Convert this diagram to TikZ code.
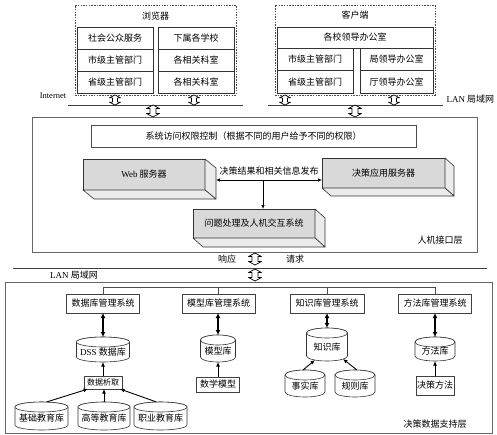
\documentclass[tikz,border=0pt]{standalone}
\usepackage{fontspec}
\setmainfont{Noto Sans CJK SC}
\newfontfamily\lat{Liberation Serif}
\usetikzlibrary{calc,arrows.meta}
\newcommand{\cyry}{5}
\newcommand{\dbcyl}[6]{%
 \draw[cylst] ({#2-#4/2},{#3+\cyry}) -- ({#2-#4/2},{#3+#5-\cyry})
   arc[start angle=180,end angle=360,x radius={0.5pt*#4},y radius=\cyry pt]
   -- ({#2+#4/2},{#3+\cyry})
   arc[start angle=0,end angle=180,x radius={0.5pt*#4},y radius=\cyry pt] -- cycle;
 \draw[cylst] (#2,{#3+\cyry}) ellipse[x radius={0.5pt*#4}, y radius=\cyry pt];
 \node[inner sep=0,outer sep=0,minimum width=#4,minimum height=#5] (#1) at (#2,{#3+#5/2}) {};
 \node at (#2,{#3+#5/2+\cyry/2}) {#6};
}
\newcommand{\sidesthreed}[3]{%
 \draw[side3d] (#1.north east) -- ++(#2,#3) -- ($(#1.south east)+(#2,#3)$) -- (#1.south east) -- cycle;
 \draw[side3d] (#1.south west) -- (#1.south east) -- ($(#1.south east)+(#2,#3)$) -- ($(#1.south west)+(#2,#3)$) -- cycle;
}
\begin{document}
\begin{tikzpicture}[x=1pt,y=-1pt,font=\fontsize{9}{10}\selectfont,
  cell/.style={draw=black!80,line width=0.7pt,minimum width=76,minimum height=22,inner sep=0,outer sep=0},
  dashbox/.style={draw=black!70,line width=0.6pt,dash pattern=on 1.5pt off 1.2pt,inner sep=0,outer sep=0},
  frame/.style={draw=black!60,line width=0.6pt,inner sep=0,outer sep=0},
  front3d/.style={draw=black!80,line width=0.8pt,fill=black!15,inner sep=0,outer sep=0},
  side3d/.style={draw=black!80,line width=0.6pt,fill=black!8,line join=round},
  mgmt/.style={draw=black!75,line width=0.6pt,minimum height=19,inner sep=1pt,outer sep=0},
  cylst/.style={draw=black!80,line width=0.6pt,fill=white},
  net/.style={draw=black!75,line width=1pt},
  dbl/.style={line width=1.2pt,{Latex[length=5pt,width=5pt]}-{Latex[length=5pt,width=5pt]}},
  uparr/.style={line width=0.9pt,-{Latex[length=4.5pt,width=4pt]}},
  thinarr/.style={line width=0.7pt,{Latex[length=4pt,width=3.5pt]}-{Latex[length=4pt,width=3.5pt]}},
  hollow/.pic={\draw[fill=white,line width=0.7pt,line join=round] (0,-6) -- (6.5,-2.5) -- (3,-2.5) -- (3,2.5) -- (6.5,2.5) -- (0,6) -- (-6.5,2.5) -- (-3,2.5) -- (-3,-2.5) -- (-6.5,-2.5) -- cycle;}
]
\useasboundingbox (0,0) rectangle (497,434);

% ---- browser
\node[dashbox,minimum width=161,minimum height=90] (browser) at (155.5,50) {};
\node (bt) at (155.5,16) {浏览器};
\node[cell] (b11) at (115,38) {社会公众服务};
\node[cell] (b21) at (115,60) {市级主管部门};
\node[cell] (b31) at (115,82) {省级主管部门};
\node[cell] (b12) at (196,38) {下属各学校};
\node[cell] (b22) at (196,60) {各相关科室};
\node[cell] (b32) at (196,82) {各相关科室};

% ---- client
\node[dashbox,minimum width=160,minimum height=90] (client) at (355,50) {};
\node (ct) at (355,15) {客户端};
\node[cell,minimum width=156,minimum height=21] (c0) at (355,37.5) {各校领导办公室};
\node[cell,minimum height=22.5] (c21) at (315,59.25) {市级主管部门};
\node[cell,minimum height=22.5] (c31) at (315,81.75) {省级主管部门};
\node[cell,minimum width=73,minimum height=22.5] (c22) at (396.5,59.25) {局领导办公室};
\node[cell,minimum width=73,minimum height=22.5] (c32) at (396.5,81.75) {厅领导办公室};

% ---- networks
\coordinate (inetL) at (68,105); \coordinate (inetR) at (243,105);
\coordinate (lanL) at (268,105); \coordinate (lanR) at (443,105);
\draw[net] (inetL) -- (inetR);
\draw[net] (lanL) -- (lanR);
\node[font=\lat\fontsize{8.5}{10}\selectfont] (inet) at (53,96) {Internet};
\node[anchor=west] (lan1) at (443,99) {{\lat LAN} 局域网};
\pic[scale=0.85] at (115,100) {hollow};
\pic[scale=0.85] at (194,100) {hollow};
\pic[scale=0.85] at (285,100) {hollow};
\pic[scale=0.85] at (394,100) {hollow};
\pic at (153,111) {hollow};
\pic at (355,111) {hollow};

% ---- HMI layer
\node[frame,minimum width=445,minimum height=135] (hmi) at (254.5,184.5) {};
\node (hmil) at (440,240) {人机接口层};
\node[draw=black!70,line width=0.6pt,minimum width=325,minimum height=22,inner sep=0] (acl) at (253.5,136) {系统访问权限控制（根据不同的用户给予不同的权限）};

\node[front3d,minimum width=122,minimum height=31] (web) at (144,174.5) {{\lat Web} 服务器};
\sidesthreed{web}{11}{9}
\node[front3d,minimum width=123,minimum height=30] (dec) at (383.5,173) {决策应用服务器};
\sidesthreed{dec}{9}{8}
\node[front3d,minimum width=122,minimum height=29] (prob) at (254,223.5) {问题处理及人机交互系统};
\sidesthreed{prob}{10}{9}

\coordinate (pL) at ($(web.south east)+(11,-10)$);
\coordinate (pM) at (263,180);
\draw[thinarr] (pL) -- (dec.west |- pL);
\draw[line width=0.7pt,-{Latex[length=4pt,width=3.5pt]}] (pM) -- (pM |- prob.north);
\node (pub) at (269,171) {决策结果和相关信息发布};

% ---- between layers
\pic at (255,259) {hollow};
\node (resp) at (227,259) {响应};
\node (req) at (295,259) {请求};
\coordinate (lan2L) at (13,268); \coordinate (lan2R) at (487,268);
\draw[net] (lan2L) -- (lan2R);
\pic at (255,275) {hollow};
\node (lan2) at (74,275) {{\lat LAN} 局域网};

% ---- data support layer
\node[frame,minimum width=487,minimum height=151] (dsl) at (248.5,357.5) {};
\node (dsll) at (435,424) {决策数据支持层};

\node[mgmt,minimum width=73] (m1) at (103,303.5) {数据库管理系统};
\node[mgmt,minimum width=73] (m2) at (218.5,303.5) {模型库管理系统};
\node[mgmt,minimum width=74] (m3) at (327,303.5) {知识库管理系统};
\node[mgmt,minimum width=73] (m4) at (435,303.5) {方法库管理系统};
\draw[draw=black!70,line width=0.6pt] (m1.north) -- ++(0,-7) -| (m4.north);
\draw[draw=black!70,line width=0.6pt] (m2.north) -- ++(0,-7);
\draw[draw=black!70,line width=0.6pt] (m3.north) -- ++(0,-7);

\dbcyl{dss}{103}{337}{53}{25}{{\lat DSS} 数据库}
\dbcyl{mdl}{218}{335}{35}{27}{模型库}
\dbcyl{kno}{327}{328}{41}{33}{知识库}
\dbcyl{mth}{435}{337}{40}{24}{方法库}
\dbcyl{cy1}{41.5}{402}{53}{28}{基础教育库}
\dbcyl{cy2}{104}{402}{52}{28}{高等教育库}
\dbcyl{cy3}{160.5}{402}{53}{28}{职业教育库}
\dbcyl{fact}{305}{370}{40}{27}{事实库}
\dbcyl{rule}{355}{370}{40}{27}{规则库}

\node[mgmt,minimum width=38,minimum height=13,inner sep=0,font=\fontsize{8}{9}\selectfont] (ext) at (103,382.5) {数据析取};
\node[mgmt,minimum width=43,minimum height=15,inner sep=0] (mathm) at (218,384.5) {数学模型};
\node[mgmt,minimum width=38,minimum height=19,inner sep=0] (dm) at (435,385.5) {决策方法};

\draw[dbl] (m1.south) -- (dss.north);
\draw[dbl] (mdl.north |- m2.south) -- (mdl.north);
\draw[dbl] (m3.south) -- (kno.north);
\draw[dbl] (m4.south) -- (mth.north);
\draw[uparr] (ext.north) -- (dss.south);
\draw[uparr] ($(cy1.north)+(5,0)$) -- ($(ext.south west)+(4,0)$);
\draw[uparr] (cy2.north) -- (cy2.north |- ext.south);
\draw[uparr] ($(cy3.north)+(-4,0)$) -- ($(ext.south east)+(-2,0)$);
\draw[uparr] (mathm.north) -- (mdl.south);
\draw[uparr] ($(fact.north)+(-2,0)$) -- ($(kno.south)+(-12,-1)$);
\draw[uparr] ($(rule.north)+(2,0)$) -- ($(kno.south)+(16,-2)$);
\draw[uparr] (dm.north) -- (mth.south);
\end{tikzpicture}
\end{document}
